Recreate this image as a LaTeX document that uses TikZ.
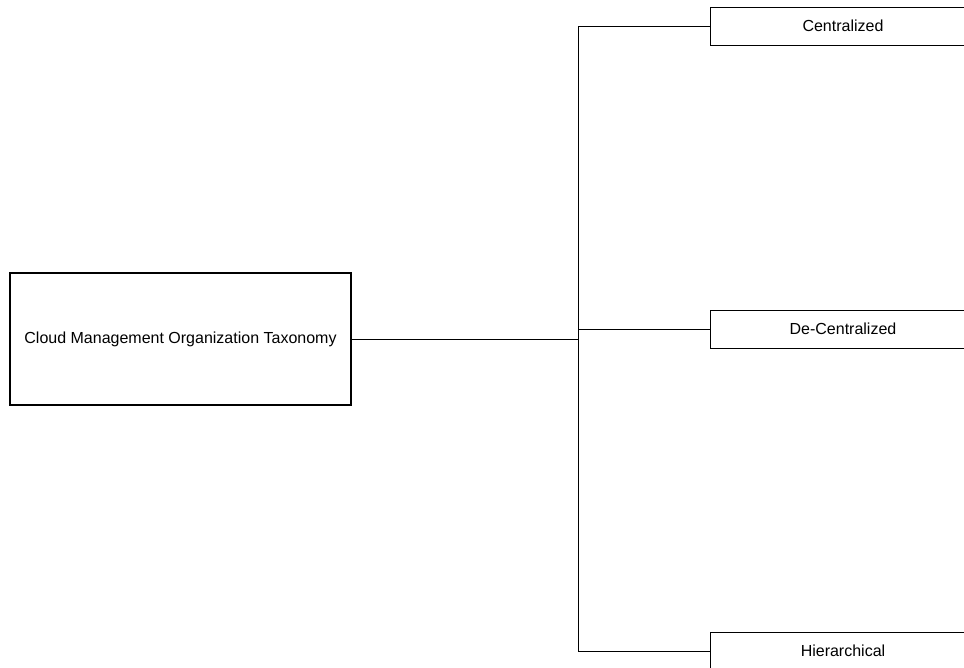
\documentclass[tikz,border=0pt]{standalone}
\usepackage{fontspec}
\setmainfont{Liberation Sans}
\begin{document}
\begin{tikzpicture}[x=1pt,y=-1pt,
  rootbox/.style={draw, line width=2.7pt, minimum width=341pt, minimum height=132pt,
    inner sep=0pt, font=\fontsize{16}{19}\selectfont},
  leafbox/.style={draw, line width=0.9pt, minimum width=266pt, minimum height=38pt,
    inner sep=0pt, font=\fontsize{16}{19}\selectfont},
  link/.style={draw, line width=0.9pt}]
  \useasboundingbox (0,0) rectangle (964,667);
  \clip (0,0) rectangle (964,667);

  % root of the taxonomy
  \node[rootbox] (root) at (180.5,339) {Cloud Management Organization Taxonomy};

  % the three organisation kinds
  \node[leafbox] (cent)  at (843,26)  {Centralized};
  \node[leafbox] (decent) at (843,329) {De-Centralized};
  \node[leafbox] (hier)  at (843,651) {Hierarchical};

  % vertical bus joining the branches
  \coordinate (bus) at (578,0);
  \path[link] (cent.west) -- (cent.west -| bus) -- (hier.west -| bus) -- (hier.west);
  \path[link] (decent.west -| bus) -- (decent.west);
  \path[link] (root.east) -- (root.east -| bus);
\end{tikzpicture}
\end{document}
